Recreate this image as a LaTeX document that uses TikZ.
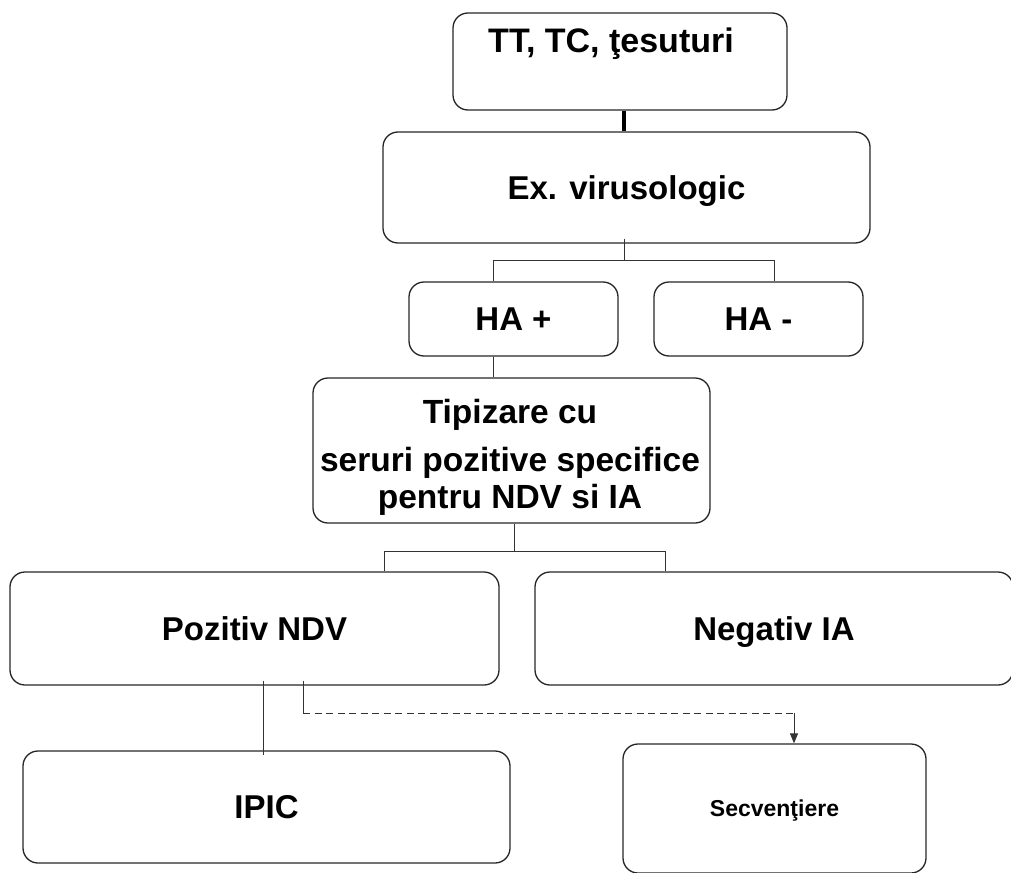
\documentclass[tikz,border=0pt]{standalone}
\usepackage{fontspec}
\setmainfont{Liberation Sans}
\usetikzlibrary{arrows.meta}
\begin{document}
\begin{tikzpicture}[x=1pt,y=-1pt,
  box/.style={draw=black!85, line width=1.3pt, rounded corners=15pt, inner sep=0pt,
    font=\fontsize{33}{38}\selectfont\bfseries, text height=23.6pt, text depth=0pt},
  lbl/.style={font=\fontsize{33.5}{38}\selectfont\bfseries, anchor=base, inner sep=0pt},
  conn/.style={draw=black!80, line width=1pt},
  dconn/.style={draw=black!80, line width=1pt, dash pattern=on 7pt off 4.5pt}]
\useasboundingbox (0,0) rectangle (1011,872);
% boxes
\node[box, minimum width=334pt, minimum height=97pt] (tt) at (620,61.5) {};
\node[lbl, font=\fontsize{34}{40}\selectfont\bfseries] (ttl) at (611,53) {TT, TC, ţesuturi};
\node[box, minimum width=487pt, minimum height=111pt] (ex) at (626.5,187.5) {Ex. virusologic};
\node[box, minimum width=209pt, minimum height=74pt] (hap) at (513.5,319) {HA +};
\node[box, minimum width=209pt, minimum height=74pt] (ham) at (758.5,319) {HA -};
\node[box, minimum width=397pt, minimum height=145pt] (tip) at (511.5,450.5) {};
\node[lbl] (tip1) at (510,423) {Tipizare cu};
\node[lbl] (tip2) at (510,471) {seruri pozitive specifice};
\node[lbl] (tip3) at (510,508) {pentru NDV si IA};
\node[box, minimum width=489pt, minimum height=113pt] (poz) at (254.5,628.5) {Pozitiv NDV};
\node[box, minimum width=478pt, minimum height=113pt] (neg) at (774,628.5) {Negativ IA};
\node[box, minimum width=487pt, minimum height=112pt] (ipic) at (266.5,807) {IPIC};
\node[box, minimum width=303pt, minimum height=129pt, font=\fontsize{23}{27}\selectfont\bfseries, text height=16.5pt] (sec) at (774.5,808.5) {Secvenţiere};
% helper coordinates
\coordinate (j1) at (624,260);
\coordinate (j1l) at (493,260);
\coordinate (j1r) at (774,260);
\coordinate (j2) at (514,551);
\coordinate (j2l) at (384,551);
\coordinate (j2r) at (665,551);
\coordinate (k) at (263,0);
\coordinate (d) at (303,713);
\coordinate (dr) at (794,713);
% connectors
\draw[draw=black, line width=4pt] (tt.south -| j1) -- (ex.north -| j1);
\draw[conn] ([yshift=5pt]ex.south -| j1) -- (j1);
\draw[conn] (j1l |- hap.north) -- (j1l) -- (j1r) -- (j1r |- ham.north);
\draw[conn] (j1l |- hap.south) -- (j1l |- tip.north);
\draw[conn] (tip.south -| j2) -- (j2);
\draw[conn] (j2l |- poz.north) -- (j2l) -- (j2r) -- (j2r |- neg.north);
\draw[conn] ([yshift=5pt]poz.south -| k) -- ([yshift=-5pt]ipic.north -| k);
\draw[conn] ([yshift=5pt]poz.south -| d) -- (d);
\draw[dconn] (d) -- (dr);
\draw[conn, -{Triangle[length=10pt,width=8pt]}] (dr) -- (dr |- sec.north);
\end{tikzpicture}
\end{document}
